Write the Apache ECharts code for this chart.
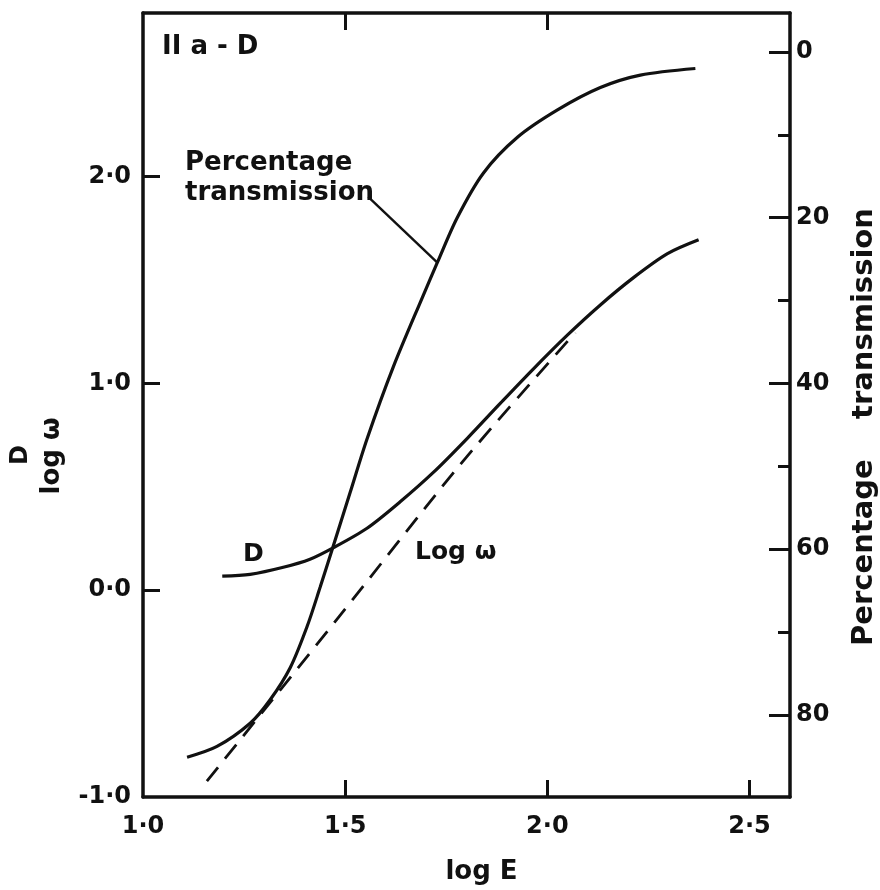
<!DOCTYPE html>
<html>
<head>
<meta charset="utf-8">
<script src="https://cdn.jsdelivr.net/npm/echarts@6/dist/echarts.min.js"></script>
<style>
html,body{margin:0;padding:0;background:#fff;}
#chart{width:880px;height:890px;}
</style>
</head>
<body>
<div id="chart"></div>
<script>
// ---- data ----
const xTickLabels = [1.0, 1.5, 2.0, 2.5];
const leftTickLabels = [-1.0, 0.0, 1.0, 2.0];
const rightTickLabels = [0, 20, 40, 60, 80];
const rightMinorTicks = [10, 30, 50, 70];

// Percentage transmission curve (right axis, %)
const logE_T = [1.109, 1.183, 1.265, 1.314, 1.364, 1.406, 1.438, 1.468, 1.512, 1.554, 1.619, 1.691, 1.728, 1.777, 1.842, 1.926, 2.025, 2.131, 2.230, 2.366];
const transmission = [85.1, 83.8, 81.0, 78.2, 74.3, 69.3, 64.6, 60.0, 53.2, 46.7, 38.0, 29.6, 25.4, 20.0, 14.6, 10.3, 7.0, 4.3, 2.8, 2.0];

// D curve (left axis)
const logE_D = [1.196, 1.265, 1.347, 1.413, 1.470, 1.554, 1.636, 1.718, 1.802, 1.884, 1.965, 2.050, 2.131, 2.213, 2.297, 2.374];
const densityD = [0.068, 0.077, 0.111, 0.150, 0.205, 0.300, 0.428, 0.570, 0.735, 0.905, 1.070, 1.235, 1.380, 1.512, 1.628, 1.695];

// Log omega dashed line (left axis)
const logE_W = [1.158, 1.480, 1.785, 2.069];
const logOmega = [-0.923, -0.140, 0.609, 1.246];

// leader line from the "Percentage transmission" label to its curve (left-axis coords)
const leaderX = [1.557, 1.728];
const leaderY = [1.903, 1.585];

const zip = (a, b) => a.map((v, i) => [v, b[i]]);
const fmt = v => Number(v).toFixed(1).replace('.', '\u00B7');

const FONT = '"DejaVu Sans", "Liberation Sans", sans-serif';
const BLACK = '#111';

const chart = echarts.init(document.getElementById('chart'), null, {renderer: 'canvas'});

const lineStyle = {color: BLACK, width: 3.2};

const option = {
  backgroundColor: '#fff',
  animation: false,
  grid: {left: 143, right: 90, top: 13, bottom: 92, containLabel: false},
  xAxis: [
    {
      type: 'value', position: 'bottom', min: 1.0, max: 2.6,
      axisLine: {show: true, onZero: false, lineStyle: {color: BLACK, width: 3.5}},
      axisTick: {show: true, inside: true, length: 17, lineStyle: {color: BLACK, width: 3}, customValues: [1.5, 2.0, 2.5]},
      axisLabel: {show: true, customValues: xTickLabels, formatter: fmt, color: BLACK, fontFamily: FONT, fontWeight: 'bold', fontSize: 24, margin: 18},
      splitLine: {show: false},
      name: 'log E', nameLocation: 'middle', nameGap: 62,
      nameTextStyle: {color: BLACK, fontFamily: FONT, fontWeight: 'bold', fontSize: 26, padding: [0, 0, 0, 30]}
    },
    {
      type: 'value', position: 'top', min: 1.0, max: 2.6,
      axisLine: {show: true, onZero: false, lineStyle: {color: BLACK, width: 3.5}},
      axisTick: {show: true, inside: true, length: 17, lineStyle: {color: BLACK, width: 3}, customValues: [1.5, 2.0]},
      axisLabel: {show: false},
      splitLine: {show: false}
    }
  ],
  yAxis: [
    {
      type: 'value', position: 'left', min: -1.0, max: 2.792,
      axisLine: {show: true, onZero: false, lineStyle: {color: BLACK, width: 3.5}},
      axisTick: {show: true, inside: true, length: 17, lineStyle: {color: BLACK, width: 3}, customValues: [0, 1, 2]},
      axisLabel: {show: true, customValues: leftTickLabels, formatter: fmt, color: BLACK, fontFamily: FONT, fontWeight: 'bold', fontSize: 24, margin: 12},
      splitLine: {show: false}
    },
    {
      type: 'value', position: 'right', inverse: true, min: -4.7, max: 89.9,
      axisLine: {show: true, onZero: false, lineStyle: {color: BLACK, width: 3.5}},
      axisTick: {show: true, inside: true, length: 21, lineStyle: {color: BLACK, width: 3}, customValues: rightTickLabels},
      axisLabel: {show: true, customValues: rightTickLabels, formatter: v => String(v), color: BLACK, fontFamily: FONT, fontWeight: 'bold', fontSize: 24, margin: 6},
      splitLine: {show: false}
    },
    {
      type: 'value', position: 'right', inverse: true, min: -4.7, max: 89.9,
      axisLine: {show: false, onZero: false},
      axisTick: {show: true, inside: true, length: 12, lineStyle: {color: BLACK, width: 3}, customValues: rightMinorTicks},
      axisLabel: {show: false},
      splitLine: {show: false}
    }
  ],
  series: [
    {
      name: 'Percentage transmission', type: 'line', xAxisIndex: 0, yAxisIndex: 1,
      data: zip(logE_T, transmission), smooth: 0.3, showSymbol: false, symbol: 'none',
      lineStyle: lineStyle
    },
    {
      name: 'D', type: 'line', xAxisIndex: 0, yAxisIndex: 0,
      data: zip(logE_D, densityD), smooth: 0.3, showSymbol: false, symbol: 'none',
      lineStyle: lineStyle
    },
    {
      name: 'Log ω', type: 'line', xAxisIndex: 0, yAxisIndex: 0,
      data: zip(logE_W, logOmega), smooth: 0.3, showSymbol: false, symbol: 'none',
      lineStyle: {color: BLACK, width: 2.8, type: [18, 11]}
    },
    {
      name: 'leader', type: 'line', xAxisIndex: 0, yAxisIndex: 0,
      data: zip(leaderX, leaderY), showSymbol: false, symbol: 'none',
      lineStyle: {color: BLACK, width: 2.4}
    }
  ],
  graphic: [
    {type: 'text', x: 162, y: 47, style: {text: 'II a - D', font: 'bold 26px ' + FONT, fill: BLACK, textAlign: 'left', textVerticalAlign: 'middle'}},
    {type: 'text', x: 185, y: 163, style: {text: 'Percentage', font: 'bold 26px ' + FONT, fill: BLACK, textAlign: 'left', textVerticalAlign: 'middle'}},
    {type: 'text', x: 185, y: 193, style: {text: 'transmission', font: 'bold 26px ' + FONT, fill: BLACK, textAlign: 'left', textVerticalAlign: 'middle'}},
    {type: 'text', x: 243, y: 554, style: {text: 'D', font: 'bold 25px ' + FONT, fill: BLACK, textAlign: 'left', textVerticalAlign: 'middle'}},
    {type: 'text', x: 415, y: 552, style: {text: 'Log ω', font: 'bold 25px ' + FONT, fill: BLACK, textAlign: 'left', textVerticalAlign: 'middle'}},
    {type: 'text', x: 21, y: 455, rotation: Math.PI / 2, style: {text: 'D', font: 'bold 24px ' + FONT, fill: BLACK, textAlign: 'center', textVerticalAlign: 'middle'}},
    {type: 'text', x: 52, y: 456, rotation: Math.PI / 2, style: {text: 'log ω', font: 'bold 26px ' + FONT, fill: BLACK, textAlign: 'center', textVerticalAlign: 'middle'}},
    {type: 'text', x: 864, y: 427, rotation: Math.PI / 2, style: {text: 'Percentage    transmission', font: 'bold 29px ' + FONT, fill: BLACK, textAlign: 'center', textVerticalAlign: 'middle'}}
  ]
};
chart.setOption(option);
</script>
</body>
</html>
